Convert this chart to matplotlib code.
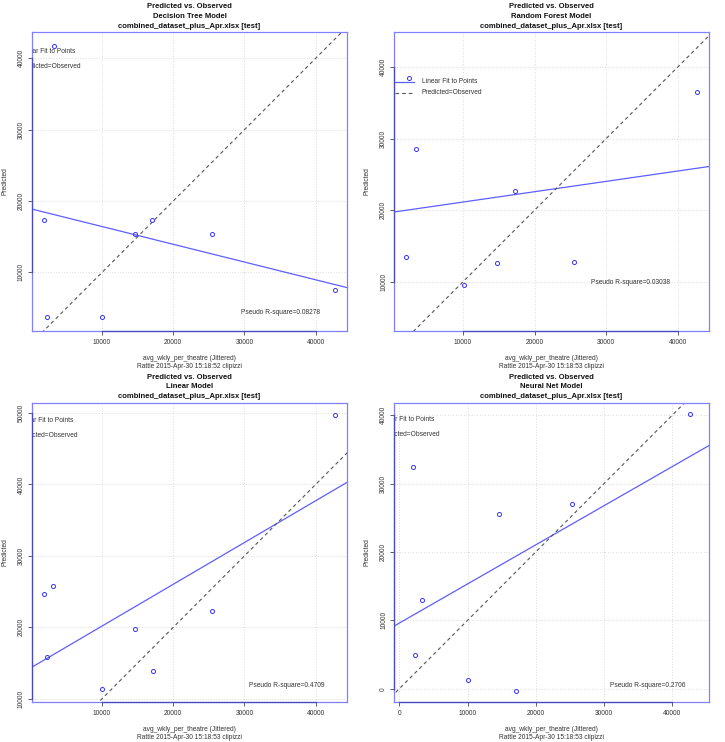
import numpy as np
import matplotlib
matplotlib.use("Agg")
import matplotlib.pyplot as plt

plt.rcParams['font.family'] = ['Liberation Sans', 'DejaVu Sans']

# ---------------- data ----------------
model_names = ["Decision Tree Model", "Random Forest Model", "Linear Model", "Neural Net Model"]
subtitle = "combined_dataset_plus_Apr.xlsx [test]"
stamps = ["Rattle 2015-Apr-30 15:18:52 clipizzi", "Rattle 2015-Apr-30 15:18:53 clipizzi",
          "Rattle 2015-Apr-30 15:18:53 clipizzi", "Rattle 2015-Apr-30 15:18:53 clipizzi"]
r2_labels = ["Pseudo R-square=0.08278", "Pseudo R-square=0.03038",
             "Pseudo R-square=0.4709", "Pseudo R-square=0.2706"]

obs_dt = [1843, 2311, 3249, 10000, 14688, 17079, 25471, 42724]
pred_dt = [17336, 3785, 41682, 3785, 15327, 17336, 15327, 7570]

obs_rf = [2455, 3386, 2082, 10093, 14751, 17220, 25557, 42697]
pred_rf = [38510, 28556, 13447, 9534, 12562, 22701, 12748, 36553]

obs_lm = [1843, 2311, 3155, 10000, 14594, 17173, 25377, 42724]
pred_lm = [24714, 15799, 25834, 11307, 19720, 13874, 22240, 49673]

obs_nn = [2005, 2249, 3276, 10024, 14670, 17164, 25379, 42689]
pred_nn = [32494, 4939, 13032, 1222, 25526, -342, 27042, 40147]

xlims = [(200, 44360), (405, 44332), (200, 44360), (-733, 45379)]
ylims = [(1822, 43645), (3153, 44844), (9580, 51354), (-1907, 41760)]
xticks = [[10000, 20000, 30000, 40000], [10000, 20000, 30000, 40000],
          [10000, 20000, 30000, 40000], [0, 10000, 20000, 30000, 40000]]
yticks = [[10000, 20000, 30000, 40000], [10000, 20000, 30000, 40000],
          [10000, 20000, 30000, 40000, 50000], [0, 10000, 20000, 30000, 40000]]

obs_all = [obs_dt, obs_rf, obs_lm, obs_nn]
pred_all = [pred_dt, pred_rf, pred_lm, pred_nn]

# ---------------- layout (pixels) ----------------
FW, FH = 725, 742
W, H = 314.5, 298.5
origins = [(32.2, 32.3), (394.3, 32.3), (32.2, 403.3), (394.3, 403.3)]
# legend: text start offset from box left (px), row offsets from box top (px)
leg_x = [-12.0, 27.7, -14.6, -15.3]
leg_rows = [(19.4, 34.4), (49.4, 60.4), (17.0, 32.7), (16.0, 31.4)]
r2_pos = [(0.789, 0.0625), (0.750, 0.162), (0.808, 0.056), (0.807, 0.053)]

SMALL = 4.8
TITLE = 5.5
box_col = '#8080ff'
axis_col = '#4a4ac0'
fit_col = '#5e5eff'
pt_col = '#3434ff'
txt_col = '#333333'

fig = plt.figure(figsize=(FW / 100, FH / 100), dpi=100)

for k in range(4):
    x0, yt = origins[k]
    ax = fig.add_axes([x0 / FW, 1 - (yt + H) / FH, W / FW, H / FH])
    x = np.array(obs_all[k], dtype=float)
    y = np.array(pred_all[k], dtype=float)
    xl, yl = xlims[k], ylims[k]
    ax.set_xlim(*xl)
    ax.set_ylim(*yl)

    # grid
    for t in xticks[k]:
        ax.axvline(t, color='#cfcfcf', lw=0.6, ls=(0, (1, 2.2)), zorder=0)
    for t in yticks[k]:
        ax.axhline(t, color='#cfcfcf', lw=0.6, ls=(0, (1, 2.2)), zorder=0)

    # points
    ax.plot(x, y, 'o', mfc='none', mec=pt_col, ms=2.9, mew=0.7, zorder=3)

    # linear fit
    slope, inter = np.polyfit(x, y, 1)
    xx = np.array(xl)
    ax.plot(xx, slope * xx + inter, color=fit_col, lw=0.9, zorder=2)

    # predicted = observed
    lo = min(xl[0], yl[0]); hi = max(xl[1], yl[1])
    ax.plot([lo, hi], [lo, hi], color='#555555', lw=0.8, ls=(0, (3.2, 2.8)), zorder=2)

    # spines
    for s in ax.spines.values():
        s.set_color(box_col)
        s.set_linewidth(0.9)

    # ticks
    ax.set_xticks(xticks[k])
    ax.set_yticks(yticks[k])
    ax.set_xticklabels([str(v) for v in xticks[k]])
    ax.set_yticklabels([str(v) for v in yticks[k]], rotation=90, va='center')
    ax.tick_params(axis='both', direction='out', length=2.6, width=0.6, color='#444444',
                   labelsize=SMALL, labelcolor=txt_col)
    ax.tick_params(axis='x', pad=3.2)
    ax.tick_params(axis='y', pad=2.6)

    # axis lines from first to last tick (R style)
    ax.plot([xticks[k][0], xticks[k][-1]], [yl[0], yl[0]], color=axis_col, lw=0.9,
            clip_on=False, zorder=4)
    ax.plot([xl[0], xl[0]], [yticks[k][0], yticks[k][-1]], color=axis_col, lw=0.9,
            clip_on=False, zorder=4)

    # titles
    ax.text(0.5, 1 + 25.6 / H, "Predicted vs. Observed", transform=ax.transAxes,
            ha='center', va='center', fontsize=TITLE, fontweight='bold', color='#111111')
    ax.text(0.5, 1 + 16.3 / H, model_names[k], transform=ax.transAxes,
            ha='center', va='center', fontsize=TITLE, fontweight='bold', color='#111111')
    ax.text(0.5, 1 + 6.3 / H, subtitle, transform=ax.transAxes,
            ha='center', va='center', fontsize=TITLE, fontweight='bold', color='#111111')

    # axis labels
    ax.text(0.5, -28.0 / H, "avg_wkly_per_theatre (Jittered)", transform=ax.transAxes,
            ha='center', va='center', fontsize=SMALL, color=txt_col)
    ax.text(0.5, -35.5 / H, stamps[k], transform=ax.transAxes,
            ha='center', va='center', fontsize=SMALL, color=txt_col)
    ax.text(-27.0 / W, 0.5, "Predicted", transform=ax.transAxes, rotation=90,
            ha='center', va='center', fontsize=SMALL, color=txt_col)

    # pseudo R-square
    ax.text(r2_pos[k][0], r2_pos[k][1], r2_labels[k], transform=ax.transAxes,
            ha='center', va='center', fontsize=SMALL, color=txt_col)

    # legend (clipped to the plot box, as in the reference)
    tx = leg_x[k]
    r1, r2 = leg_rows[k]
    ax.text(tx / W, 1 - r1 / H, "Linear Fit to Points", transform=ax.transAxes,
            ha='left', va='center', fontsize=SMALL, color=txt_col, clip_on=True)
    ax.text(tx / W, 1 - r2 / H, "Predicted=Observed", transform=ax.transAxes,
            ha='left', va='center', fontsize=SMALL, color=txt_col, clip_on=True)
    ax.plot([(tx - 26.7) / W, (tx - 8.3) / W], [1 - r1 / H, 1 - r1 / H],
            transform=ax.transAxes, color=fit_col, lw=0.9, clip_on=True)
    ax.plot([(tx - 26.7) / W, (tx - 8.3) / W], [1 - r2 / H, 1 - r2 / H],
            transform=ax.transAxes, color='#555555', lw=0.8, ls=(0, (3.2, 2.8)), clip_on=True)

fig.savefig("out.png", dpi=100)
